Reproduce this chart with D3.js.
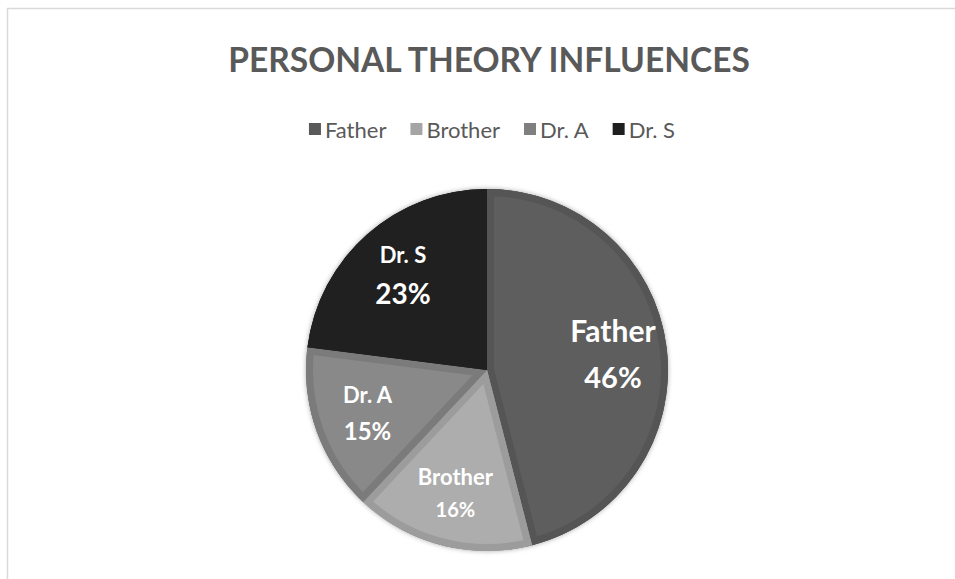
<!DOCTYPE html>
<html>
<head>
<meta charset="utf-8">
<script src="https://cdn.jsdelivr.net/npm/d3@7"></script>
<style>
  html, body { margin: 0; padding: 0; background: #fff; }
  svg { display: block; font-family: Lato, "Open Sans", sans-serif; }
</style>
</head>
<body>
<div id="chart"></div>
<script>
// chart data
var title = "PERSONAL THEORY INFLUENCES";
var categories = ["Father", "Brother", "Dr. A", "Dr. S"];
var percents = [46, 16, 15, 23];

// look
var fillColors = ["#5e5e5e", "#adadad", "#898989", "#202020"];
var bandColors = ["#555555", "#9c9c9c", "#7b7b7b", "#202020"];
var legendColors = ["#595959", "#a5a5a5", "#7f7f7f", "#1f1f1f"];
var nameSizes = [30, 22, 22, 22];
var valueSizes = [29, 20, 24, 28];

const W = 955, H = 579;
const cx = 487, cy = 370, R = 181;

var svg = d3.select("#chart").append("svg")
  .attr("width", W)
  .attr("height", H);

// chart area border (runs off the right and bottom)
svg.append("rect")
  .attr("x", 7.5).attr("y", 8.5)
  .attr("width", 1200).attr("height", 1000)
  .attr("fill", "none")
  .attr("stroke", "#d9d9d9")
  .attr("stroke-width", 1.5);

// title, fitted to the reference width
var tt = svg.append("text")
  .attr("x", 489).attr("y", 72)
  .attr("text-anchor", "middle")
  .attr("font-size", 33)
  .attr("font-weight", "bold")
  .attr("fill", "#595959")
  .text(title);
var tw = tt.node().getComputedTextLength();
tt.attr("font-size", 33 * 522 / tw);

// legend
var legend = svg.append("g");
var lx = 0;
categories.forEach(function(c, i) {
  var g = legend.append("g").attr("transform", "translate(" + lx + ",0)");
  g.append("rect")
    .attr("x", 0).attr("y", -7)
    .attr("width", 12).attr("height", 12)
    .attr("fill", legendColors[i]);
  var t = g.append("text")
    .attr("x", 16).attr("y", 8)
    .attr("font-size", 22)
    .attr("fill", "#595959")
    .text(c);
  lx += 16 + t.node().getComputedTextLength() + 24;
});
lx -= 24;
legend.attr("transform", "translate(" + (492 - lx / 2) + ",130)");

// drop shadow for pie
var defs = svg.append("defs");
var f = defs.append("filter").attr("id", "shadow")
  .attr("x", "-10%").attr("y", "-10%").attr("width", "120%").attr("height", "120%");
f.append("feDropShadow")
  .attr("dx", 0).attr("dy", 0)
  .attr("stdDeviation", 2.5)
  .attr("flood-color", "#000")
  .attr("flood-opacity", 0.35);

var pie = d3.pie().sort(null).value(d => d);
var arcs = pie(percents);
var arc = d3.arc().innerRadius(0).outerRadius(R);
var labelArc = d3.arc().innerRadius(127).outerRadius(127);

var pieG = svg.append("g")
  .attr("transform", "translate(" + cx + "," + cy + ")");

// shadow base
pieG.append("circle")
  .attr("r", R)
  .attr("fill", "#555")
  .attr("filter", "url(#shadow)");

arcs.forEach(function(a, i) {
  defs.append("clipPath").attr("id", "clip" + i)
    .append("path").attr("d", arc(a));
  var s = pieG.append("g");
  s.append("path")
    .attr("d", arc(a))
    .attr("fill", fillColors[i]);
  // inner bevel band
  s.append("path")
    .attr("d", arc(a))
    .attr("fill", "none")
    .attr("stroke", bandColors[i])
    .attr("stroke-width", 14)
    .attr("stroke-linejoin", "miter")
    .attr("clip-path", "url(#clip" + i + ")");
});

// data labels: name above, percent below
arcs.forEach(function(a, i) {
  var p = labelArc.centroid(a);
  var gap = 0.78 * (nameSizes[i] + valueSizes[i]);
  svg.append("text")
    .attr("x", cx + p[0]).attr("y", cy + p[1] - gap / 2 + nameSizes[i] * 0.36)
    .attr("text-anchor", "middle")
    .attr("font-size", nameSizes[i])
    .attr("font-weight", "bold")
    .attr("fill", "#ffffff")
    .text(categories[i]);
  svg.append("text")
    .attr("x", cx + p[0]).attr("y", cy + p[1] + gap / 2 + valueSizes[i] * 0.36)
    .attr("text-anchor", "middle")
    .attr("font-size", valueSizes[i])
    .attr("font-weight", "bold")
    .attr("fill", "#ffffff")
    .text(percents[i] + "%");
});
</script>
</body>
</html>
